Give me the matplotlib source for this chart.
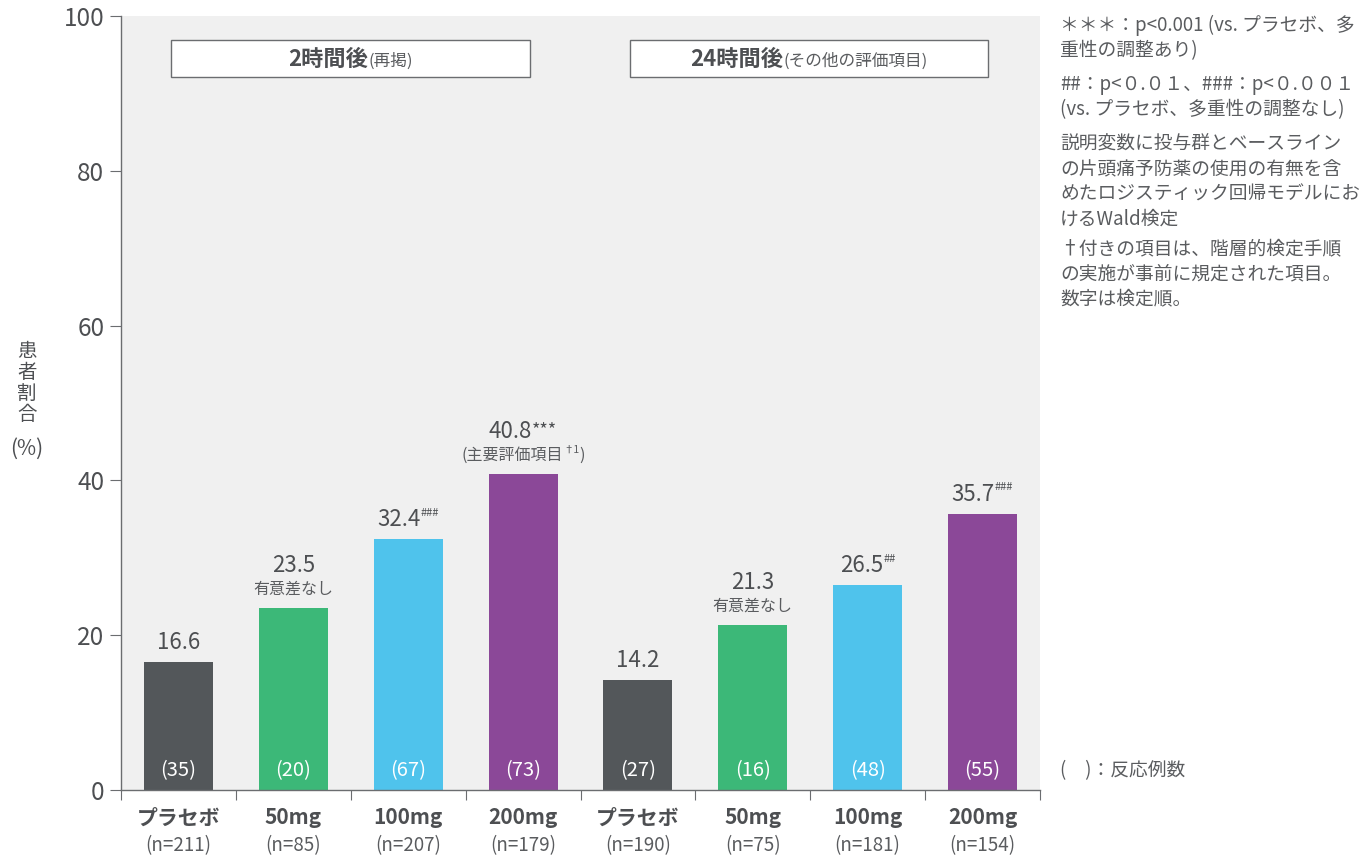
import matplotlib
matplotlib.use("Agg")
import matplotlib.pyplot as plt
from matplotlib.patches import Rectangle

plt.rcParams['font.family'] = ['Noto Sans CJK JP', 'DejaVu Sans']

# ---- data ----
categories = ['プラセボ', '50mg', '100mg', '200mg', 'プラセボ', '50mg', '100mg', '200mg']
n_labels = ['(n=211)', '(n=85)', '(n=207)', '(n=179)', '(n=190)', '(n=75)', '(n=181)', '(n=154)']
values = [16.6, 23.5, 32.4, 40.8, 14.2, 21.3, 26.5, 35.7]
value_text = ['16.6', '23.5', '32.4', '40.8', '14.2', '21.3', '26.5', '35.7']
sig_marks = ['', '', '###', '***', '', '', '##', '###']
sub_labels = ['', '有意差なし', '', '(主要評価項目', '', '有意差なし', '', '']
responders = ['(35)', '(20)', '(67)', '(73)', '(27)', '(16)', '(48)', '(55)']
colors = ['#53575a', '#3cb878', '#4fc3ec', '#8b4898', '#53575a', '#3cb878', '#4fc3ec', '#8b4898']
y_ticks = [0, 20, 40, 60, 80, 100]
group_titles = [('2時間後', '(再掲)'), ('24時間後', '(その他の評価項目)')]

TXT = '#4d4f52'
SUB = '#5a5c5f'

fig = plt.figure(figsize=(13.7, 8.57), dpi=100)
ax = fig.add_axes([121/1370, 1-790/857, (1040-121)/1370, (790-16)/857])
ax.set_facecolor('#f0f0f0')

x = list(range(len(values)))
ax.bar(x, values, width=0.6, color=colors, zorder=2)
ax.set_xlim(-0.5, len(values) - 0.5)
ax.set_ylim(0, 100)

for s in ['top', 'right']:
    ax.spines[s].set_visible(False)
for s in ['left', 'bottom']:
    ax.spines[s].set_color('#6b6d70')
    ax.spines[s].set_linewidth(1.0)

ax.set_yticks(y_ticks)
ax.set_yticklabels([str(v) for v in y_ticks], fontsize=17.5, color=TXT)
ax.tick_params(axis='y', length=8, color='#6b6d70', pad=4)
ax.set_xticks([i - 0.5 for i in range(len(values) + 1)])
ax.set_xticklabels([])
ax.tick_params(axis='x', length=7, color='#6b6d70')

renderer = fig.canvas.get_renderer()
rich_groups = []


def rich(xy, pieces, base_off, xycoords='data'):
    """pieces: list of (text, size, weight, dy_pts, color)"""
    arts = []
    for text, size, weight, dy, col in pieces:
        a = ax.annotate(text, xy=xy, xycoords=xycoords, xytext=(0, base_off + dy),
                        textcoords='offset points', ha='left', va='baseline',
                        fontsize=size, fontweight=weight, color=col, zorder=5,
                        annotation_clip=False)
        arts.append((a, base_off + dy))
    rich_groups.append(arts)


for i, v in enumerate(values):
    if sub_labels[i]:
        base = 26.0
        if sub_labels[i].startswith('('):
            rich((i, v), [(sub_labels[i], 11.5, 'normal', 0, SUB),
                          ('†1', 7.5, 'normal', 5, SUB),
                          (')', 11.5, 'normal', 0, SUB)], 10.2)
        else:
            rich((i, v), [(sub_labels[i], 11.5, 'normal', 0, SUB)], 10.2)
    else:
        base = 9.3
    pieces = [(value_text[i], 16, 'normal', 0, TXT)]
    if sig_marks[i]:
        if sig_marks[i].startswith('*'):
            pieces.append(('***', 13, 'normal', 2.0, TXT))
        else:
            pieces.append((sig_marks[i], 8, 'normal', 7.5, TXT))
    rich((i, v), pieces, base)
    # responders inside bar
    ax.annotate(responders[i], xy=(i, 0), xytext=(0, 14), textcoords='offset points',
                ha='center', va='center', fontsize=14.5, color='white', zorder=5)
    # category labels
    ax.annotate(categories[i], xy=(i, 0), xytext=(0, -20), textcoords='offset points',
                ha='center', va='center', fontsize=15, fontweight='bold', color=TXT,
                annotation_clip=False)
    ax.annotate(n_labels[i], xy=(i, 0), xytext=(0, -40), textcoords='offset points',
                ha='center', va='center', fontsize=13.5, color=SUB,
                annotation_clip=False)

# group header boxes
box_x = [(-0.065, 3.06), (3.93, 7.05)]
for (x0, x1), (main, sub) in zip(box_x, group_titles):
    ax.add_patch(Rectangle((x0, 92.1), x1 - x0, 4.8, facecolor='white',
                           edgecolor='#6b6d70', linewidth=1.0, zorder=3))
    rich(((x0 + x1) / 2, 94.5), [(main, 16, 'bold', 0, TXT),
                                 (sub, 12, 'normal', 0, SUB)], -5.5)

# y label
fig.text(27/1370, 1-383/857, '患\n者\n割\n合', ha='center', va='center',
         fontsize=14, color=TXT, linespacing=1.0)
fig.text(27/1370, 1-449/857, '(%)', ha='center', va='center',
         fontsize=15, color=TXT)

# right-side notes
notes = [
    (27, '＊＊＊：p<0.001 (vs. プラセボ、多\n重性の調整あり)'),
    (86, '##：p<０.０１、###：p<０.００１\n(vs. プラセボ、多重性の調整なし)'),
    (146, '説明変数に投与群とベースライン\nの片頭痛予防薬の使用の有無を含\nめたロジスティック回帰モデルにお\nけるWald検定'),
    (250, '†付きの項目は、階層的検定手順\nの実施が事前に規定された項目。\n数字は検定順。'),
]
for ypx, txt in notes:
    fig.text(1060/1370, 1-(ypx - 12)/857, txt, ha='left', va='top', fontsize=13.5,
             color=SUB, linespacing=1.25)
fig.text(1060/1370, 1-771/857, '(　)：反応例数', ha='left', va='center', fontsize=13.5, color=SUB)

# layout rich text groups: center horizontally
fig.canvas.draw()
for arts in rich_groups:
    widths = [a.get_window_extent(renderer).width * 72 / fig.dpi for a, _ in arts]
    total = sum(widths)
    cur = -total / 2
    for (a, dy), w in zip(arts, widths):
        a.xyann = (cur, dy)
        cur += w

fig.savefig('out.png', dpi=100)
